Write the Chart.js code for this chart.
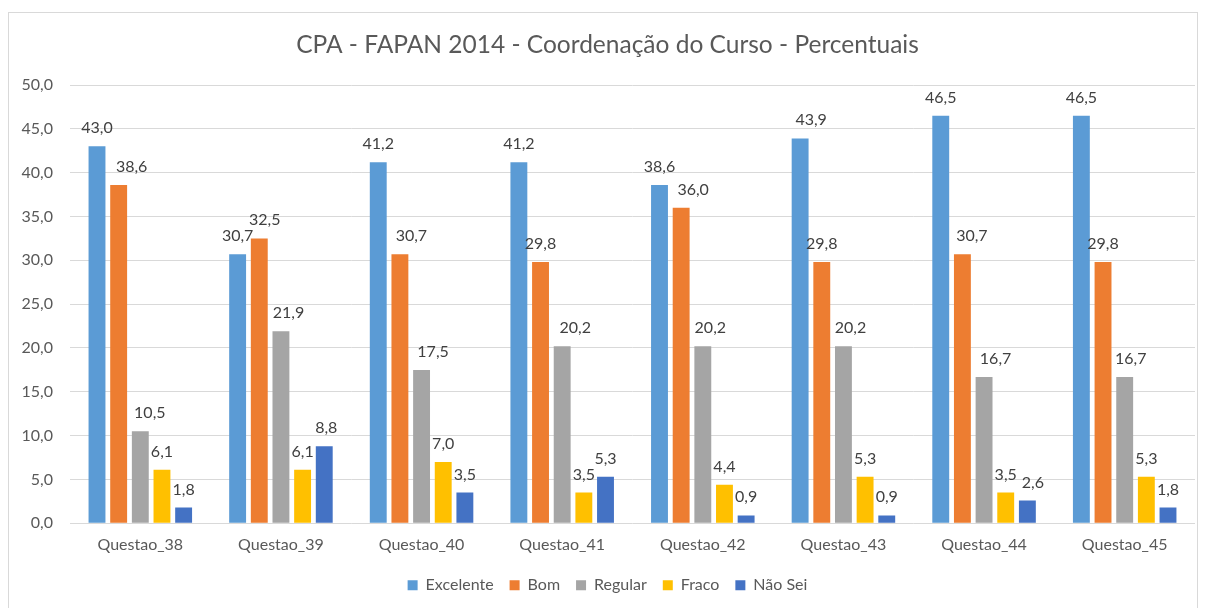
<!DOCTYPE html>
<html>
<head>
<meta charset="utf-8">
<script src="https://cdn.jsdelivr.net/npm/chart.js@4.4.1/dist/chart.umd.min.js"></script>
<style>
  html, body { margin: 0; padding: 0; background: #ffffff; }
  #wrap { position: absolute; left: 0; top: 0; width: 1206px; height: 608px; }
</style>
</head>
<body>
<div id="wrap"><canvas id="c" width="1206" height="608"></canvas></div>
<script>
// ---- Data ----
const categories = ['Questao_38', 'Questao_39', 'Questao_40', 'Questao_41', 'Questao_42', 'Questao_43', 'Questao_44', 'Questao_45'];
const seriesNames = ['Excelente', 'Bom', 'Regular', 'Fraco', 'Não Sei'];
const excelente = [43.0, 30.7, 41.2, 41.2, 38.6, 43.9, 46.5, 46.5];
const bom       = [38.6, 32.5, 30.7, 29.8, 36.0, 29.8, 30.7, 29.8];
const regular   = [10.5, 21.9, 17.5, 20.2, 20.2, 20.2, 16.7, 16.7];
const fraco     = [6.1, 6.1, 7.0, 3.5, 4.4, 5.3, 3.5, 5.3];
const naoSei    = [1.8, 8.8, 3.5, 5.3, 0.9, 0.9, 2.6, 1.8];
const yTickValues = [0, 5, 10, 15, 20, 25, 30, 35, 40, 45, 50];
const titleText = 'CPA - FAPAN 2014 - Coordenação do Curso - Percentuais';

// ---- Styles ----
const colors = ['#5B9BD5', '#ED7D31', '#A5A5A5', '#FFC000', '#4472C4'];
const FONT = 'Lato';
const TXT = 16;
// horizontal nudges of data labels (as placed in the original chart), px
const labelNudges = [
  [0, 0, 0, 0, 0, 11, 0, 0],
  [13, 5.5, 11.5, 0, 12, 0, 9.5, 0],
  [9.5, 7.5, 11.5, 13, 7.5, 7, 11.5, 6],
  [0, 0, 0, 0, 0, 0, 0, 0],
  [0, 2, 0, 0, 0, 0, 5.5, 0]
];

const fmt = v => Number(v).toFixed(1).replace('.', ',');

const frame = {
  id: 'frame',
  beforeDraw(chart) {
    const ctx = chart.ctx;
    ctx.save();
    ctx.fillStyle = '#ffffff';
    ctx.fillRect(0, 0, chart.width, chart.height);
    ctx.strokeStyle = '#d9d9d9';
    ctx.lineWidth = 1;
    ctx.strokeRect(8.5, 12.5, 1189, 620);
    ctx.restore();
  }
};

const valueLabels = {
  id: 'valueLabels',
  afterDatasetsDraw(chart) {
    const ctx = chart.ctx;
    ctx.save();
    ctx.font = TXT + 'px ' + FONT;
    ctx.fillStyle = '#404040';
    ctx.textAlign = 'center';
    ctx.textBaseline = 'alphabetic';
    chart.data.datasets.forEach((ds, di) => {
      const meta = chart.getDatasetMeta(di);
      meta.data.forEach((bar, i) => {
        const nudge = (labelNudges[di] && labelNudges[di][i]) || 0;
        ctx.fillText(fmt(ds.data[i]), bar.x + nudge, bar.y - 13);
      });
    });
    ctx.restore();
  }
};

const seriesData = [excelente, bom, regular, fraco, naoSei];

new Chart(document.getElementById('c'), {
  type: 'bar',
  data: {
    labels: categories,
    datasets: seriesNames.map((name, k) => ({
      label: name,
      data: seriesData[k],
      backgroundColor: colors[k],
      borderWidth: 0,
      categoryPercentage: 0.77,
      barPercentage: 0.78
    }))
  },
  options: {
    responsive: false,
    animation: false,
    devicePixelRatio: 1,
    layout: { padding: { left: 20, right: 11, top: 0, bottom: 4.7 } },
    plugins: {
      title: {
        display: true,
        text: titleText,
        color: '#595959',
        font: { family: FONT, size: 24.5, weight: 'normal' },
        padding: { top: 30.3, bottom: 25.3 }
      },
      legend: {
        display: true,
        position: 'bottom',
        labels: {
          boxWidth: 10,
          boxHeight: 10,
          padding: 16,
          color: '#595959',
          font: { family: FONT, size: TXT }
        }
      },
      tooltip: { enabled: false }
    },
    scales: {
      x: {
        grid: { display: false, drawTicks: false },
        border: { display: false },
        ticks: { color: '#595959', font: { family: FONT, size: TXT }, padding: 12 },
        afterFit(s) { s.height = 38; }
      },
      y: {
        min: 0,
        max: 50,
        afterBuildTicks(s) { s.ticks = yTickValues.map(v => ({ value: v })); },
        grid: { color: '#d9d9d9', lineWidth: 1, drawTicks: false },
        border: { display: false },
        ticks: {
          color: '#595959',
          font: { family: FONT, size: TXT },
          padding: 17,
          callback: v => fmt(v)
        },
        afterFit(s) { s.width = 50; }
      }
    }
  },
  plugins: [frame, valueLabels]
});
</script>
</body>
</html>
